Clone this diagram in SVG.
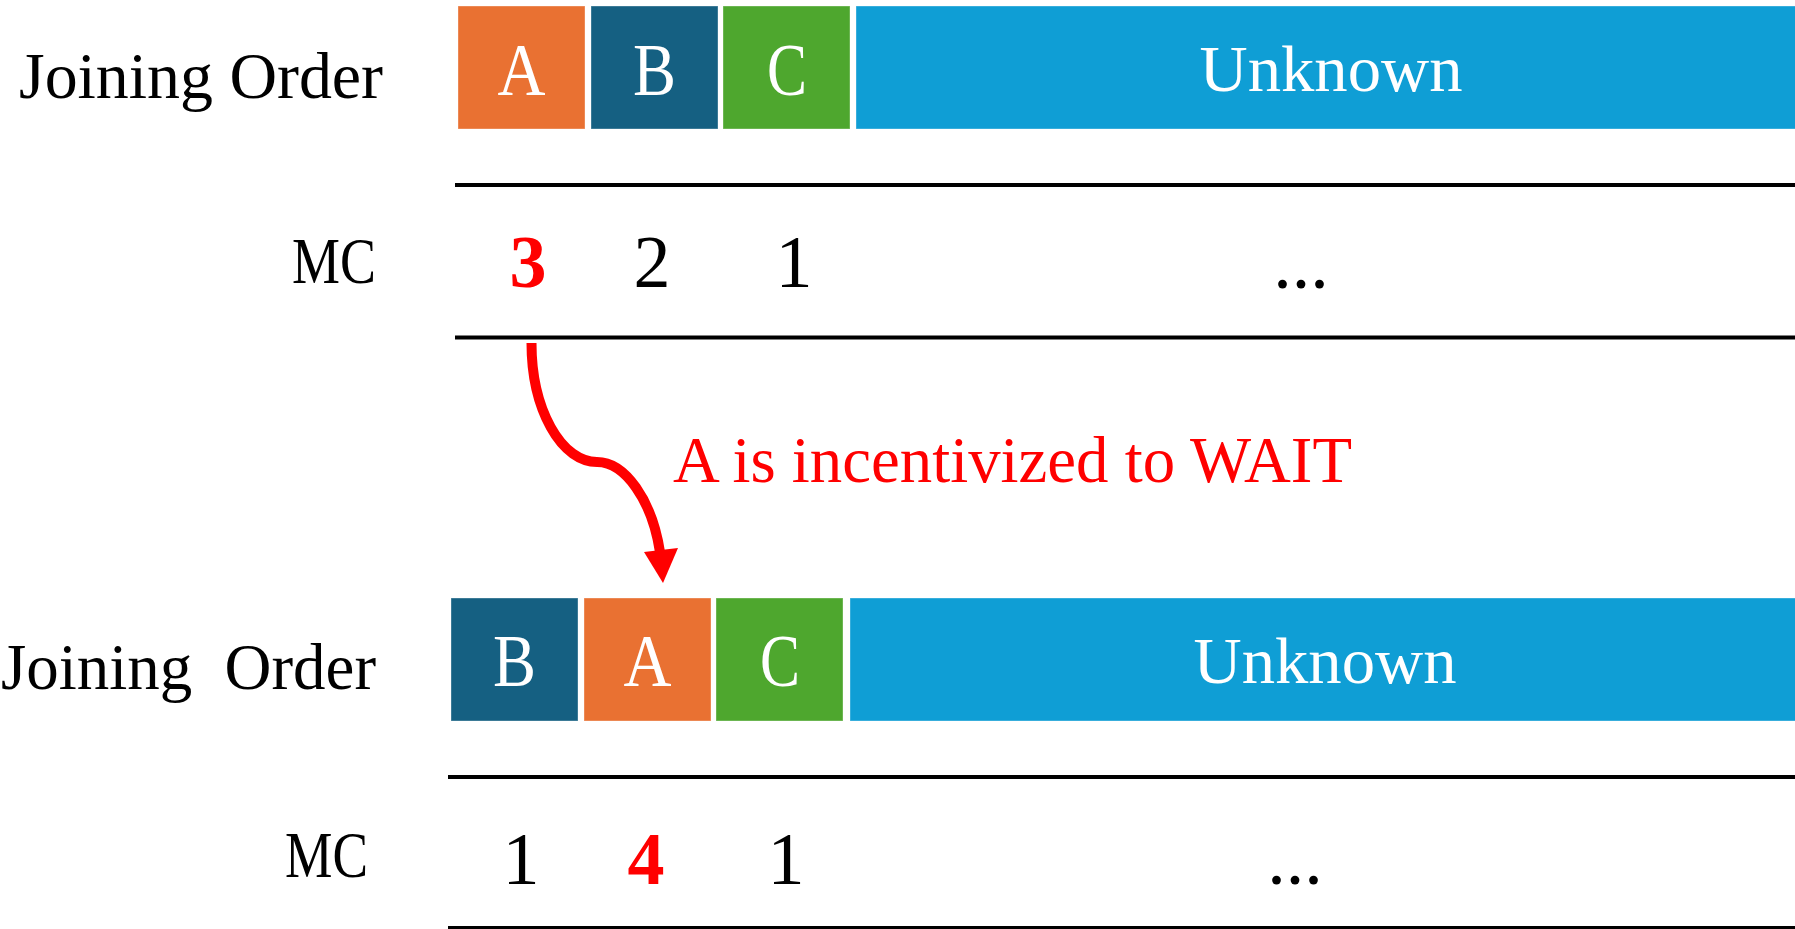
<svg xmlns="http://www.w3.org/2000/svg" width="1795" height="929" viewBox="0 0 1795 929">
  <style>
    .lbl{font-family:"Liberation Serif","Times New Roman",serif;font-size:65px;fill:#000}
    .cell{font-family:"Liberation Serif","Times New Roman",serif;font-size:73px;fill:#fff;text-anchor:middle}
    .unk{font-family:"Liberation Serif","Times New Roman",serif;font-size:65px;fill:#fff;text-anchor:middle}
    .num{font-family:"Liberation Serif","Times New Roman",serif;font-size:74px;fill:#000;text-anchor:middle}
    .hot{fill:#ff0000;font-weight:bold}
    .note{font-family:"Liberation Serif","Times New Roman",serif;font-size:65px;fill:#ff0000}
    .rule{stroke:#000;stroke-width:4}
    .a{fill:#E97132}
    .b{fill:#156082}
    .c{fill:#4EA72E}
    .u{fill:#0F9ED5}
    .edge{stroke:#ffffff;stroke-opacity:0.35;stroke-width:1}
  </style>

  <!-- row labels -->
  <g id="label-order-1"><text class="lbl" x="19" y="98" textLength="364" lengthAdjust="spacingAndGlyphs">Joining Order</text></g>
  <g id="label-mc-1"><text class="lbl" x="292" y="283" textLength="84" lengthAdjust="spacingAndGlyphs">MC</text></g>
  <g id="label-order-2"><text class="lbl" x="1" y="689" textLength="375" lengthAdjust="spacingAndGlyphs" xml:space="preserve" style="white-space:pre">Joining  Order</text></g>
  <g id="label-mc-2"><text class="lbl" x="285" y="877" textLength="83" lengthAdjust="spacingAndGlyphs">MC</text></g>

  <!-- first ordering: A, B, C, Unknown -->
  <g id="top-A">
    <rect class="a edge" x="458" y="6" width="127" height="123"/>
    <text class="cell" x="521.5" y="95" textLength="48" lengthAdjust="spacingAndGlyphs">A</text>
  </g>
  <g id="top-B">
    <rect class="b edge" x="591" y="6" width="127" height="123"/>
    <text class="cell" x="654.5" y="95" textLength="43" lengthAdjust="spacingAndGlyphs">B</text>
  </g>
  <g id="top-C">
    <rect class="c edge" x="723" y="6" width="127" height="123"/>
    <text class="cell" x="787" y="95" textLength="40" lengthAdjust="spacingAndGlyphs">C</text>
  </g>
  <g id="top-unknown">
    <rect class="u edge" x="856" y="6" width="945" height="123"/>
    <text class="unk" x="1331" y="91" textLength="263" lengthAdjust="spacingAndGlyphs">Unknown</text>
  </g>

  <!-- first MC values -->
  <g id="top-mc">
    <text class="num hot" x="528" y="287">3</text>
    <text class="num" x="652" y="287">2</text>
    <text class="num" x="794" y="287">1</text>
    <text class="num" x="1301" y="288">...</text>
  </g>

  <!-- second ordering: B, A, C, Unknown -->
  <g id="bottom-B">
    <rect class="b edge" x="451" y="598" width="127" height="123"/>
    <text class="cell" x="514.5" y="686" textLength="43" lengthAdjust="spacingAndGlyphs">B</text>
  </g>
  <g id="bottom-A">
    <rect class="a edge" x="584" y="598" width="127" height="123"/>
    <text class="cell" x="647.5" y="686" textLength="48" lengthAdjust="spacingAndGlyphs">A</text>
  </g>
  <g id="bottom-C">
    <rect class="c edge" x="716" y="598" width="127" height="123"/>
    <text class="cell" x="780" y="686" textLength="40" lengthAdjust="spacingAndGlyphs">C</text>
  </g>
  <g id="bottom-unknown">
    <rect class="u edge" x="850" y="598" width="950" height="123"/>
    <text class="unk" x="1325" y="683" textLength="263" lengthAdjust="spacingAndGlyphs">Unknown</text>
  </g>

  <!-- second MC values -->
  <g id="bottom-mc">
    <text class="num" x="521" y="884">1</text>
    <text class="num hot" x="646" y="884">4</text>
    <text class="num" x="786" y="884">1</text>
    <text class="num" x="1295" y="884">...</text>
  </g>

  <!-- table rules -->
  <g id="rules">
    <line class="rule" x1="455" y1="185" x2="1795" y2="185"/>
    <line class="rule" x1="455" y1="337.5" x2="1795" y2="337.5"/>
    <line class="rule" x1="448" y1="777" x2="1795" y2="777"/>
    <line class="rule" x1="448" y1="928" x2="1795" y2="928"/>
  </g>

  <!-- connector: A moves back one slot -->
  <g id="connectors">
    <path d="M531.5 343 A65.5 119 0 0 0 597 462 C625 462 652 500 660 552" fill="none" stroke="#ff0000" stroke-width="10"/>
    <polygon points="644,552 678,548 663,583" fill="#ff0000"/>
  </g>

  <g id="label-wait"><text class="note" x="673" y="482" textLength="679" lengthAdjust="spacingAndGlyphs">A is incentivized to WAIT</text></g>
</svg>
